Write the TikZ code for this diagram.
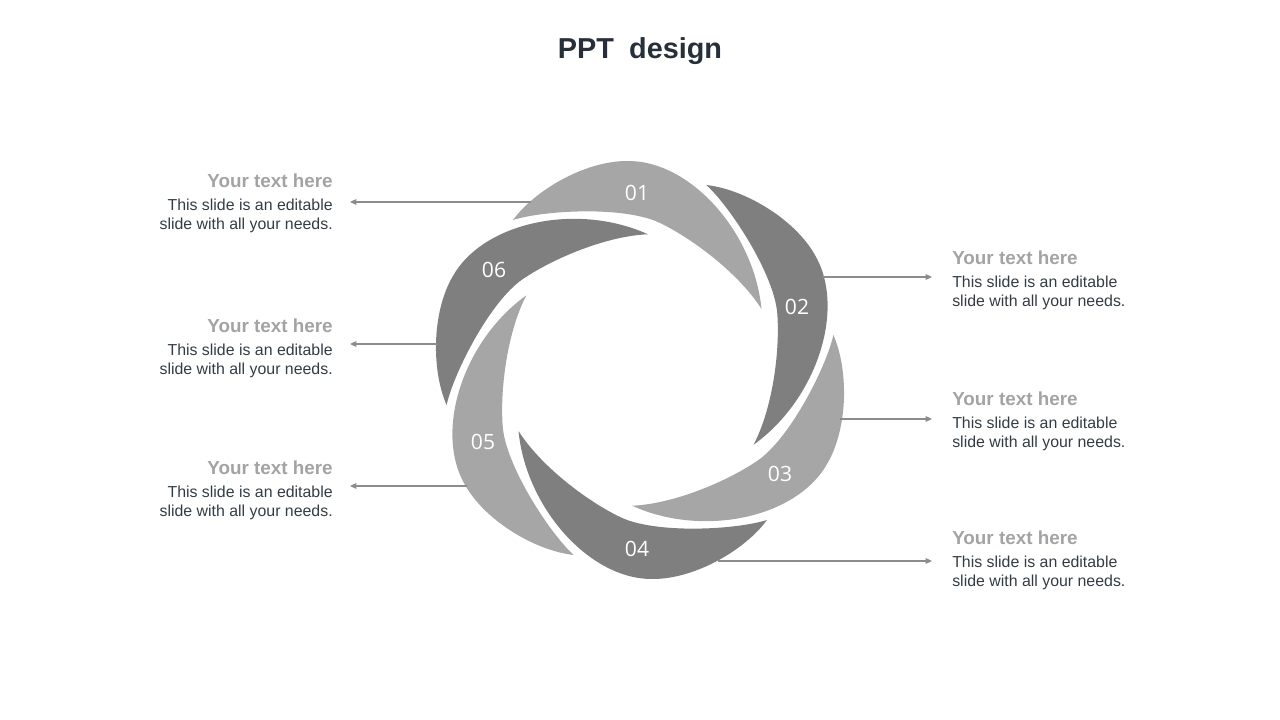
\documentclass[tikz,border=0pt]{standalone}
\usepackage{fontspec}
\setmainfont{Liberation Sans}
\newfontfamily\numfont{Open Sans}
\usetikzlibrary{calc}
\usetikzlibrary{positioning}
\usetikzlibrary{arrows.meta}

\definecolor{bladelight}{HTML}{A6A6A6}
\definecolor{bladedark}{HTML}{7F7F7F}
\definecolor{headgray}{HTML}{A3A3A3}
\definecolor{bodytext}{HTML}{333C45}
\definecolor{titletext}{HTML}{262F3A}
\definecolor{linegray}{HTML}{8C8C8C}

\tikzset{
  blade/.style={draw=none},
  bladenum/.style={text=white, font=\numfont\fontsize{15}{18}\selectfont},
  headtxt/.style={text=headgray, font=\bfseries\fontsize{13.4}{15}\selectfont, inner sep=0pt},
  bodytxt/.style={text=bodytext, font=\fontsize{11.3}{13.6}\selectfont, inner sep=0pt},
  link/.style={draw=linegray, line width=0.8pt, -{Triangle[length=4.5pt,width=4pt]}}
}

% one blade, the others are turned copies
\newcommand{\bladepath}{(-127,150) .. controls (-105,180) and (-55,209) .. (-13,209)
  .. controls (50,210) and (114,138) .. (121.5,61)
  .. controls (100,95) and (55,130) .. (20,147)
  .. controls (-15,164) and (-95,160) .. (-127,150) -- cycle}

\begin{document}
\begin{tikzpicture}[x=0.025cm, y=0.025cm]
  \useasboundingbox (-640,-350) rectangle (640,370);

  \node[font=\bfseries\fontsize{20.5}{24}\selectfont, text=titletext] (title) at (0,319) {PPT\hspace{0.25em} design};

  \foreach \k/\c in {1/bladelight,2/bladedark,3/bladelight,4/bladedark,5/bladelight,6/bladedark}
    \fill[blade, fill=\c, rotate=-(\k-1)*60] \bladepath;

  \node[bladenum] (n1) at (-3,177) {01};
  \node[bladenum] (n2) at (157,63) {02};
  \node[bladenum] (n3) at (140,-104) {03};
  \node[bladenum] (n4) at (-3,-179) {04};
  \node[bladenum] (n5) at (-157,-72) {05};
  \node[bladenum] (n6) at (-146,100) {06};

  \foreach \n/\y in {1/182.5, 2/37.5, 3/-104.5} {
    \node[headtxt, anchor=base east] (hl\n) at (-307,\y) {Your text here};
    \node[bodytxt, align=right, anchor=north east] (bl\n) at ($(hl\n.base east)+(0,-11.5)$) {This slide is an editable\\slide with all your needs.};
  }
  \foreach \n/\y in {1/105.5, 2/-35.5, 3/-174.5} {
    \node[headtxt, anchor=base west] (hr\n) at (312,\y) {Your text here};
    \node[bodytxt, align=left, anchor=north west] (br\n) at ($(hr\n.base west)+(0,-11.5)$) {This slide is an editable\\slide with all your needs.};
  }

  \foreach \n/\x/\y in {1/-109/168, 2/-202/26, 3/-173/-116} {
    \coordinate (sl\n) at (\x,\y);
    \coordinate (el\n) at (-290,\y);
    \draw[link] (sl\n) -- (el\n);
  }
  \foreach \n/\x/\y in {1/182/93, 2/200/-49, 3/78/-191} {
    \coordinate (sr\n) at (\x,\y);
    \coordinate (er\n) at (292,\y);
    \draw[link] (sr\n) -- (er\n);
  }

\end{tikzpicture}
\end{document}
